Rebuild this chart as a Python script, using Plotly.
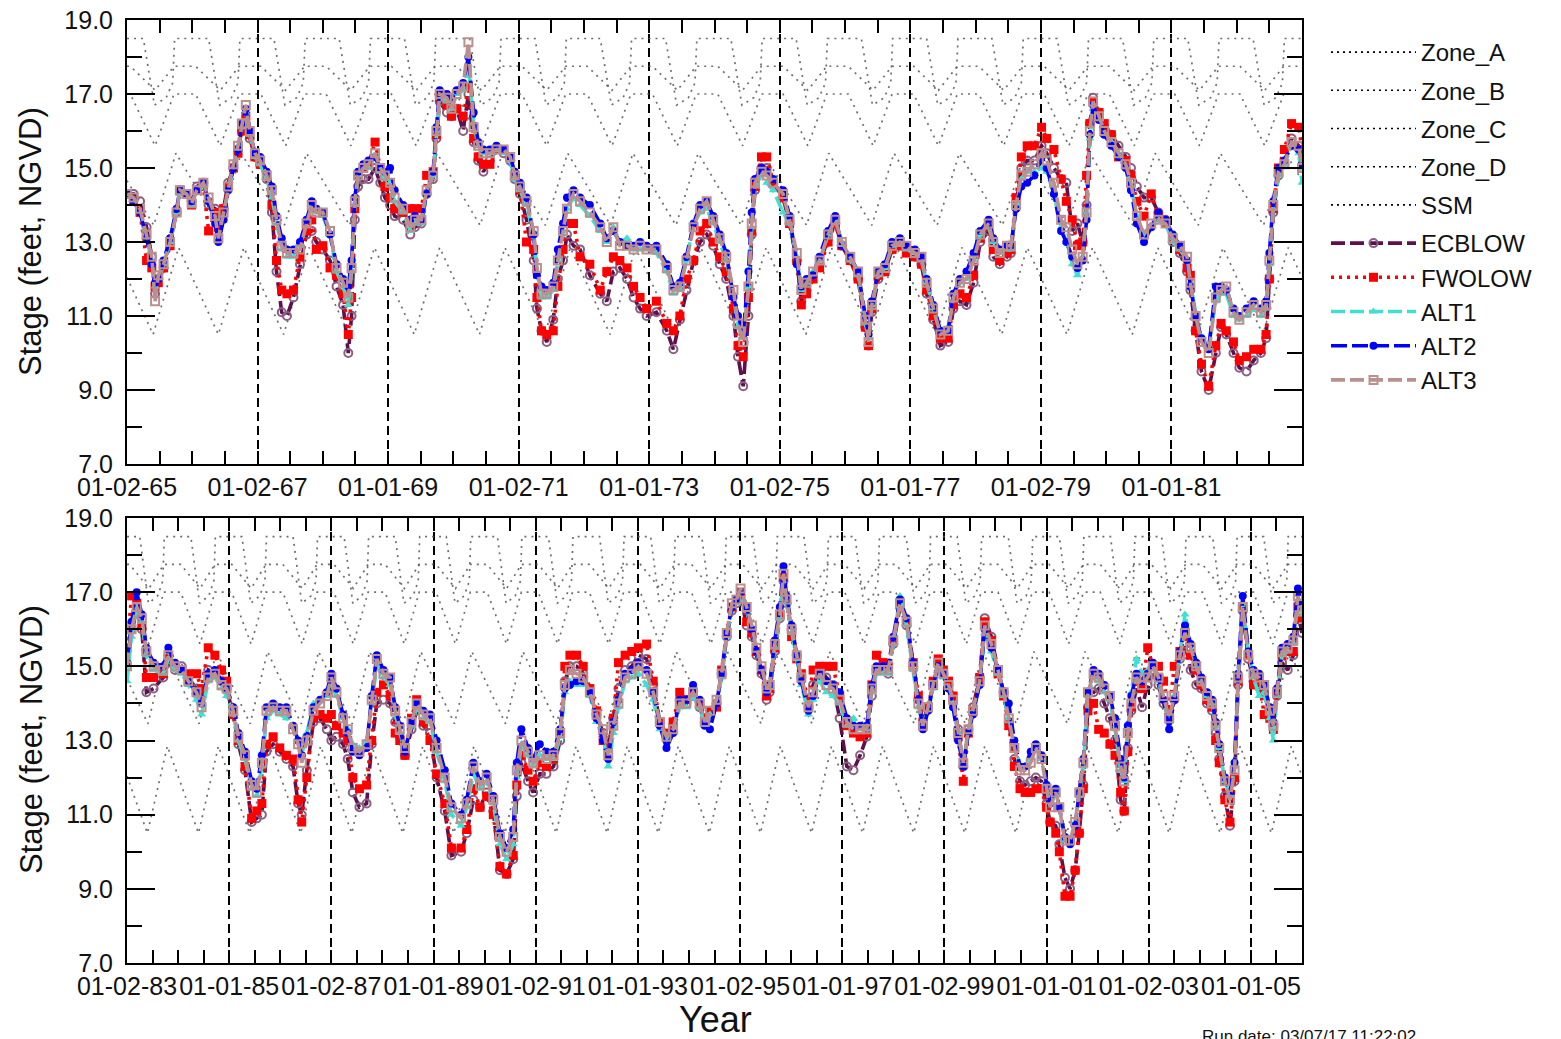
import plotly.graph_objects as go

# ---------------- DATA (decimal year, stage in ft NGVD) ----------------
T_TOP = [
    1965.00, 1965.10, 1965.20, 1965.30, 1965.38, 1965.43, 1965.48, 1965.56, 1965.66, 1965.76, 1965.81, 1965.91, 1965.99,
    1966.07, 1966.17, 1966.25, 1966.35, 1966.40, 1966.48, 1966.55, 1966.63, 1966.70, 1966.76, 1966.82, 1966.88, 1966.96,
    1967.04, 1967.14, 1967.22, 1967.29, 1967.37, 1967.45, 1967.55, 1967.65, 1967.75, 1967.83, 1967.90,
    1968.00, 1968.11, 1968.21, 1968.31, 1968.39, 1968.44, 1968.49, 1968.54, 1968.62, 1968.70, 1968.80, 1968.88, 1968.95,
    1969.03, 1969.10, 1969.23, 1969.34, 1969.41, 1969.51, 1969.59, 1969.69, 1969.74, 1969.79, 1969.90, 1969.97,
    1970.05, 1970.15, 1970.23, 1970.31, 1970.38, 1970.46, 1970.56, 1970.66, 1970.77, 1970.87, 1970.94,
    1971.02, 1971.12, 1971.23, 1971.28, 1971.35, 1971.43, 1971.53, 1971.60, 1971.68, 1971.74, 1971.84, 1971.94,
    1972.09, 1972.25, 1972.35, 1972.45, 1972.55, 1972.66, 1972.76, 1972.86, 1972.96,
    1973.11, 1973.27, 1973.37, 1973.47, 1973.57, 1973.68, 1973.78, 1973.88, 1973.98,
    1974.08, 1974.18, 1974.29, 1974.36, 1974.44, 1974.52, 1974.57, 1974.62, 1974.72, 1974.80, 1974.90,
    1975.05, 1975.15, 1975.26, 1975.33, 1975.41, 1975.51, 1975.61, 1975.74, 1975.85, 1975.95,
    1976.08, 1976.20, 1976.31, 1976.36, 1976.41, 1976.51, 1976.61, 1976.72, 1976.84, 1976.94,
    1977.07, 1977.17, 1977.25, 1977.35, 1977.46, 1977.58, 1977.66, 1977.76, 1977.86, 1977.97,
    1978.07, 1978.20, 1978.27, 1978.37, 1978.48, 1978.54, 1978.62, 1978.70, 1978.79, 1978.90,
    1979.01, 1979.09, 1979.20, 1979.31, 1979.39, 1979.48, 1979.56, 1979.64, 1979.70, 1979.75, 1979.80, 1979.89, 1979.97,
    1980.08, 1980.19, 1980.30, 1980.38, 1980.47, 1980.58, 1980.69, 1980.80, 1980.91,
    1981.02, 1981.13, 1981.24, 1981.29, 1981.37, 1981.46, 1981.57, 1981.68, 1981.76, 1981.84, 1981.95,
    1982.04, 1982.15, 1982.26, 1982.37, 1982.45, 1982.50, 1982.56, 1982.64, 1982.73, 1982.84, 1982.95,
    1983.00,
]

ALT3_TOP = [
    14.3, 14.2, 13.9, 13.2, 12.6, 11.4, 12.1, 12.4, 13.0, 13.8, 14.4, 14.3, 14.05,
    14.4, 14.6, 14.2, 13.7, 13.1, 13.8, 14.5, 15.1, 15.6, 16.2, 16.7, 16.0, 15.4,
    15.2, 14.8, 14.4, 13.6, 12.9, 12.7, 12.7, 12.8, 13.5, 14.0, 13.8,
    13.8, 13.3, 12.3, 11.9, 11.5, 12.3, 14.1, 14.8, 15.0, 15.1, 15.4, 15.0, 14.8,
    14.6, 14.2, 13.9, 13.4, 13.6, 13.6, 14.4, 14.8, 16.0, 17.0, 16.9, 16.6,
    17.0, 17.2, 18.4, 16.1, 15.6, 15.4, 15.4, 15.5, 15.5, 15.3, 14.8,
    14.5, 14.1, 13.3, 12.3, 11.6, 11.6, 11.8, 12.5, 13.3, 13.9, 14.3, 14.1,
    13.8, 13.4, 13.0, 13.4, 12.9, 12.9, 12.8, 12.9, 12.8,
    12.8, 12.3, 11.7, 11.8, 12.5, 13.4, 13.9, 14.1, 13.6,
    13.1, 12.6, 11.7, 10.8, 10.3, 11.8, 13.5, 14.6, 14.9, 14.8, 14.6,
    14.3, 13.6, 12.7, 11.7, 11.9, 12.2, 12.5, 13.2, 13.6, 13.0,
    12.6, 12.2, 10.9, 10.3, 11.3, 12.2, 12.3, 12.9, 13.0, 12.9,
    12.7, 12.6, 11.9, 11.2, 10.5, 10.6, 11.5, 11.9, 12.0, 12.5,
    13.2, 13.5, 13.0, 12.7, 12.9, 12.9, 14.0, 14.8, 14.9, 15.1,
    15.4, 15.2, 14.6, 13.6, 13.4, 12.8, 12.4, 12.6, 13.8, 16.0, 16.8, 16.4, 16.0,
    15.7, 15.4, 15.1, 14.6, 13.7, 13.2, 13.5, 13.6, 13.5,
    13.1, 12.9, 12.6, 11.9, 11.0, 10.3, 10.0, 11.5, 11.7, 11.8, 11.1,
    10.9, 11.1, 11.3, 11.1, 11.3, 12.5, 14.0, 14.9, 15.1, 15.7, 15.6,
    15.0,
]

ALT2_TOP = [
    14.3, 14.1, 13.8, 13.1, 12.4, 11.9, 12.0, 12.5, 13.1, 13.9, 14.4, 14.3, 14.1,
    14.4, 14.6, 14.1, 13.5, 13.0, 13.6, 14.4, 15.0, 15.5, 16.2, 16.6, 16.0, 15.4,
    15.3, 14.9, 14.5, 13.7, 13.1, 12.8, 12.8, 13.0, 13.6, 14.1, 13.9,
    13.8, 13.2, 12.4, 12.0, 11.8, 12.5, 14.2, 14.9, 15.1, 15.2, 15.3, 15.0, 14.9,
    15.0, 14.4, 14.0, 13.6, 13.7, 13.6, 14.3, 14.9, 16.1, 17.1, 17.0, 16.9,
    17.1, 17.3, 18.0, 16.5, 15.7, 15.5, 15.5, 15.6, 15.5, 15.3, 14.9,
    14.6, 14.2, 13.2, 12.1, 11.8, 11.7, 11.9, 12.8, 13.5, 14.2, 14.4, 14.2,
    14.0, 13.5, 13.1, 13.3, 13.0, 12.9, 12.9, 13.0, 12.9,
    12.9, 12.4, 11.8, 11.9, 12.6, 13.5, 14.0, 14.1, 13.7,
    13.2, 12.7, 11.5, 11.0, 10.5, 12.2, 13.8, 14.7, 15.0, 14.9, 14.7,
    14.4, 13.7, 12.4, 11.8, 12.0, 12.1, 12.6, 13.3, 13.7, 12.9,
    12.6, 12.2, 11.0, 10.5, 11.4, 12.2, 12.4, 13.0, 13.1, 12.9,
    12.8, 12.6, 12.0, 11.3, 10.6, 10.6, 11.6, 12.0, 12.2, 12.7,
    13.3, 13.6, 13.1, 12.8, 12.9, 12.9, 13.9, 14.5, 14.6, 14.8,
    15.3, 15.0, 14.3, 13.3, 13.0, 12.6, 12.3, 12.5, 13.6, 15.9, 16.7, 16.3, 15.9,
    15.6, 15.3, 15.0, 14.4, 13.5, 13.0, 13.4, 13.8, 13.6,
    13.2, 12.9, 12.5, 11.8, 11.0, 10.4, 10.1, 11.8, 11.8, 11.7, 11.2,
    11.0, 11.2, 11.4, 11.2, 11.4, 12.7, 14.1, 15.0, 15.2, 15.6, 15.5,
    15.1,
]

ALT1_TOP = [
    14.3, 14.1, 13.8, 13.1, 12.5, 11.8, 12.0, 12.4, 13.0, 13.8, 14.3, 14.3, 14.0,
    14.4, 14.5, 14.1, 13.6, 13.1, 13.7, 14.4, 15.0, 15.5, 16.1, 16.5, 15.9, 15.3,
    15.1, 14.7, 14.2, 13.5, 12.8, 12.6, 12.6, 12.9, 13.6, 14.0, 13.8,
    13.7, 13.2, 12.2, 11.8, 11.3, 12.2, 14.0, 14.8, 15.0, 15.0, 15.3, 14.9, 14.7,
    14.6, 14.1, 13.8, 13.3, 13.5, 13.5, 14.3, 14.8, 16.0, 16.9, 16.8, 16.6,
    17.0, 17.1, 17.8, 16.2, 15.6, 15.4, 15.4, 15.5, 15.4, 15.2, 14.7,
    14.4, 14.0, 13.2, 12.2, 11.5, 11.5, 11.7, 12.5, 13.3, 13.9, 14.2, 14.0,
    13.7, 13.3, 13.0, 13.4, 13.0, 13.1, 12.8, 12.8, 12.8,
    12.7, 12.2, 11.6, 11.7, 12.5, 13.5, 13.8, 13.9, 13.5,
    13.0, 12.5, 11.6, 10.7, 10.4, 11.8, 13.4, 14.5, 14.8, 14.6, 14.4,
    13.8, 13.5, 12.6, 11.7, 11.9, 12.2, 12.5, 13.2, 13.6, 13.0,
    12.5, 12.1, 10.8, 10.4, 11.3, 12.1, 12.3, 12.9, 13.0, 12.8,
    12.7, 12.5, 11.9, 11.2, 10.6, 10.7, 11.6, 11.9, 12.0, 12.5,
    13.2, 13.4, 13.0, 12.7, 12.8, 12.8, 13.9, 14.7, 14.9, 14.9,
    15.0, 14.9, 14.3, 13.4, 13.0, 12.4, 12.1, 12.6, 13.8, 15.8, 16.6, 16.3, 15.9,
    15.7, 15.4, 15.0, 14.5, 13.7, 13.2, 13.4, 13.6, 13.5,
    13.0, 12.8, 12.5, 11.9, 11.1, 10.4, 10.2, 11.4, 11.6, 11.6, 11.0,
    10.9, 11.0, 11.2, 11.0, 11.2, 12.4, 13.9, 14.8, 15.1, 15.6, 15.4,
    14.6,
]

ECBLOW_TOP = [
    14.3, 14.3, 14.1, 13.4, 12.6, 11.6, 12.0, 12.3, 13.0, 13.8, 14.4, 14.3, 14.1,
    14.5, 14.6, 14.0, 13.9, 13.5, 13.9, 14.6, 15.0, 15.5, 16.0, 16.2, 15.8, 15.3,
    15.1, 14.7, 13.8, 12.2, 11.1, 11.0, 11.5, 12.4, 13.2, 13.3, 13.0,
    12.8, 12.5, 11.8, 11.3, 10.0, 11.0, 13.6, 14.5, 14.7, 14.7, 15.0, 14.6, 14.2,
    14.0, 13.7, 13.6, 13.2, 13.4, 13.5, 14.3, 14.7, 15.8, 16.8, 16.5, 16.4,
    16.6, 16.0, 17.0, 15.7, 15.2, 14.9, 15.2, 15.5, 15.4, 15.2, 14.7,
    14.3, 13.6, 12.5, 11.2, 10.6, 10.3, 10.9, 12.0, 12.5, 13.2, 12.9, 12.8,
    12.1, 11.6, 11.4, 12.2, 12.3, 12.0, 11.5, 11.2, 11.0,
    11.1, 10.6, 10.1, 10.9, 11.7, 12.5, 13.0, 13.2, 12.9,
    12.4, 12.0, 11.0, 9.9, 9.1, 11.0, 13.2, 14.4, 15.0, 15.0, 14.6,
    14.2, 13.5, 12.5, 11.4, 11.7, 12.1, 12.4, 13.1, 13.5, 12.9,
    12.5, 12.0, 10.7, 10.2, 11.1, 12.0, 12.2, 12.8, 12.9, 12.8,
    12.6, 12.4, 11.6, 10.9, 10.2, 10.3, 11.2, 11.4, 11.3, 11.9,
    13.0, 13.3, 12.6, 12.4, 12.6, 12.7, 14.0, 15.0, 15.2, 15.2,
    15.6, 15.4, 15.0, 14.7, 14.6, 13.3, 13.5, 13.0, 14.0, 16.2, 16.9, 16.5, 16.1,
    15.9, 15.6, 15.3, 15.0, 14.5, 14.2, 14.2, 13.8, 13.6,
    13.0, 12.7, 12.2, 11.7, 10.6, 9.5, 9.0, 10.0, 10.7, 10.5, 10.0,
    9.6, 9.5, 9.8, 10.0, 10.4, 12.0, 13.8, 14.8, 15.1, 15.8, 15.6,
    15.0,
]

FWOLOW_TOP = [
    14.3, 14.1, 13.8, 12.5, 12.3, 11.8, 11.9, 12.3, 12.9, 13.8, 14.4, 14.3, 14.0,
    14.4, 14.5, 13.3, 13.8, 13.4, 13.9, 14.5, 15.0, 15.4, 16.0, 16.4, 15.9, 15.3,
    15.1, 14.8, 14.0, 12.5, 11.7, 11.6, 11.7, 12.6, 13.3, 13.6, 12.8,
    12.9, 12.3, 12.1, 11.6, 10.5, 11.5, 13.9, 14.8, 15.0, 15.1, 15.7, 15.0, 14.5,
    14.2, 13.9, 13.8, 13.9, 13.9, 13.9, 14.8, 14.9, 15.9, 16.9, 16.7, 16.4,
    16.6, 16.4, 17.2, 15.8, 15.3, 15.1, 15.1, 15.5, 15.5, 15.3, 14.8,
    14.4, 13.0, 12.8, 11.5, 10.6, 10.5, 10.6, 11.8, 12.8, 13.5, 13.5, 12.6,
    12.4, 11.7, 12.2, 12.6, 12.5, 12.3, 11.8, 11.5, 11.2,
    11.4, 10.8, 10.6, 11.0, 12.0, 12.5, 13.3, 13.5, 13.0,
    12.6, 12.2, 11.2, 10.2, 9.9, 11.5, 13.3, 14.5, 15.3, 15.3, 14.6,
    14.2, 13.5, 12.5, 11.3, 11.6, 12.0, 12.3, 13.0, 13.5, 12.9,
    12.5, 12.0, 10.7, 10.2, 11.2, 12.1, 12.2, 12.8, 12.9, 12.7,
    12.6, 12.4, 11.7, 11.0, 10.4, 10.4, 11.3, 11.6, 11.5, 12.1,
    13.1, 13.4, 12.8, 12.5, 12.7, 12.8, 14.2, 15.3, 15.6, 15.6,
    16.1, 15.8, 15.5, 14.7, 14.1, 13.6, 12.9, 13.0, 14.8, 16.2, 16.8, 16.5, 16.2,
    15.9, 15.3, 15.2, 14.8, 14.1, 13.7, 14.3, 13.7, 13.5,
    13.1, 12.8, 12.3, 12.1, 10.6, 9.7, 9.1, 10.2, 10.8, 10.6, 10.3,
    9.8, 9.9, 10.1, 10.1, 10.5, 12.0, 13.9, 15.0, 15.5, 16.2, 16.1,
    15.5,
]

T_BOT = [
    1983.00, 1983.09, 1983.19, 1983.29, 1983.38, 1983.52, 1983.71, 1983.81, 1983.94,
    1984.07, 1984.20, 1984.36, 1984.46, 1984.59, 1984.72, 1984.85, 1984.95,
    1985.08, 1985.18, 1985.31, 1985.44, 1985.54, 1985.64, 1985.73, 1985.86,
    1985.99, 1986.12, 1986.25, 1986.35, 1986.42, 1986.52, 1986.65, 1986.78, 1986.91,
    1987.00, 1987.10, 1987.23, 1987.32, 1987.42, 1987.55, 1987.69, 1987.79, 1987.89,
    1988.02, 1988.15, 1988.25, 1988.34, 1988.44, 1988.57, 1988.67, 1988.80, 1988.93,
    1989.06, 1989.22, 1989.35, 1989.54, 1989.65, 1989.78, 1989.91,
    1990.04, 1990.17, 1990.30, 1990.43, 1990.56, 1990.63, 1990.72, 1990.85, 1990.95,
    1991.08, 1991.21, 1991.35, 1991.48, 1991.57, 1991.67, 1991.80, 1991.93,
    1992.06, 1992.19, 1992.32, 1992.42, 1992.52, 1992.62, 1992.75, 1992.88,
    1993.01, 1993.17, 1993.30, 1993.43, 1993.56, 1993.69, 1993.82, 1993.95,
    1994.08, 1994.21, 1994.31, 1994.41, 1994.54, 1994.64, 1994.74, 1994.84, 1994.93,
    1995.01, 1995.13, 1995.23, 1995.32, 1995.42, 1995.52, 1995.58, 1995.68, 1995.78, 1995.85, 1995.91,
    1996.01, 1996.11, 1996.20, 1996.34, 1996.43, 1996.56, 1996.69, 1996.82, 1996.95,
    1997.09, 1997.22, 1997.35, 1997.48, 1997.58, 1997.67, 1997.80, 1997.90,
    1998.00, 1998.13, 1998.26, 1998.39, 1998.49, 1998.58, 1998.68, 1998.78, 1998.88, 1998.98,
    1999.08, 1999.17, 1999.27, 1999.37, 1999.47, 1999.56, 1999.69, 1999.79, 1999.92,
    2000.05, 2000.16, 2000.26, 2000.37, 2000.48, 2000.58, 2000.69, 2000.79, 2000.90,
    2001.00, 2001.07, 2001.18, 2001.25, 2001.36, 2001.46, 2001.56, 2001.64, 2001.72, 2001.81, 2001.92,
    2002.02, 2002.13, 2002.24, 2002.34, 2002.45, 2002.52, 2002.59, 2002.66, 2002.76, 2002.87, 2002.98,
    2003.08, 2003.19, 2003.29, 2003.40, 2003.50, 2003.61, 2003.71, 2003.82, 2003.93,
    2004.03, 2004.14, 2004.24, 2004.31, 2004.38, 2004.49, 2004.59, 2004.68, 2004.75, 2004.84, 2004.95,
    2005.05, 2005.16, 2005.26, 2005.37, 2005.44, 2005.51, 2005.61, 2005.72, 2005.83, 2005.92,
    2006.00,
]

ALT3_BOT = [
    15.0, 16.0, 16.6, 16.3, 15.4, 15.0, 14.9, 15.3, 15.0,
    14.9, 14.6, 14.3, 13.9, 14.7, 14.8, 14.5, 14.4,
    13.8, 13.1, 12.6, 11.8, 11.6, 12.4, 13.8, 13.9,
    13.8, 13.8, 13.3, 12.9, 12.4, 13.0, 13.8, 14.0, 14.2,
    14.7, 14.3, 13.6, 13.3, 12.8, 12.7, 12.9, 14.1, 15.2,
    14.8, 14.7, 13.8, 13.3, 12.8, 13.5, 14.0, 13.7, 13.6,
    12.8, 12.0, 11.2, 10.9, 11.3, 12.3, 11.8,
    12.0, 11.4, 10.4, 10.0, 10.4, 12.2, 13.0, 12.7, 12.4,
    12.6, 12.5, 12.6, 13.2, 14.5, 14.9, 14.8, 14.7,
    14.3, 13.7, 13.3, 12.6, 13.4, 14.0, 14.7, 14.8,
    15.0, 14.8, 14.3, 13.5, 13.1, 13.3, 14.0, 14.0,
    14.3, 14.0, 13.5, 13.8, 14.1, 14.8, 15.9, 16.7, 16.8,
    17.1, 16.6, 16.1, 15.5, 15.0, 14.4, 14.5, 15.6, 16.4, 17.5, 16.8,
    16.0, 15.3, 14.7, 13.9, 14.3, 14.8, 14.5, 14.4, 14.1,
    13.5, 13.3, 13.3, 13.3, 14.4, 14.9, 14.9, 14.9,
    15.7, 16.7, 16.2, 15.0, 14.0, 13.4, 13.9, 14.5, 15.1, 14.8,
    14.5, 14.1, 13.2, 12.4, 13.3, 13.8, 14.6, 16.1, 15.6,
    14.9, 14.3, 13.6, 12.8, 12.2, 12.2, 12.4, 12.8, 12.5,
    11.7, 11.2, 11.6, 11.2, 10.3, 10.3, 10.8, 11.6, 12.4, 14.3, 14.8,
    14.7, 14.4, 14.2, 13.4, 12.3, 11.9, 13.2, 14.0, 14.7, 14.5, 14.7,
    15.0, 14.7, 14.2, 13.6, 14.2, 15.3, 15.9, 15.5, 15.0,
    14.6, 14.2, 14.0, 13.4, 12.8, 11.9, 11.4, 12.2, 14.7, 16.6, 15.3,
    14.8, 14.7, 14.5, 13.8, 13.4, 14.3, 15.4, 15.5, 15.7, 16.9,
    16.5,
]

ALT2_BOT = [
    15.1, 16.2, 17.0, 16.4, 15.5, 15.1, 15.0, 15.5, 15.1,
    14.9, 14.6, 14.3, 14.0, 14.8, 14.9, 14.6, 14.4,
    13.9, 13.2, 12.7, 11.9, 11.7, 12.6, 13.9, 14.0,
    13.9, 13.9, 13.4, 13.0, 12.6, 13.1, 13.9, 14.1, 14.3,
    14.8, 14.4, 13.7, 13.2, 12.7, 12.6, 12.8, 14.2, 15.3,
    14.9, 14.7, 13.9, 13.4, 12.7, 13.5, 14.0, 13.8, 13.7,
    13.0, 12.2, 11.3, 11.0, 11.4, 12.4, 11.9,
    12.1, 11.5, 10.5, 10.1, 10.6, 12.4, 13.3, 12.8, 12.5,
    12.9, 12.7, 12.7, 13.3, 14.4, 14.5, 14.6, 14.6,
    14.3, 13.6, 13.0, 12.5, 13.5, 14.1, 14.8, 14.9,
    15.1, 14.9, 14.3, 13.4, 12.8, 13.2, 14.1, 14.1,
    14.5, 14.1, 13.4, 13.3, 14.0, 14.8, 15.9, 16.6, 16.8,
    17.0, 16.6, 16.0, 15.4, 14.9, 14.3, 14.5, 15.7, 16.6, 17.7, 16.9,
    16.1, 15.3, 14.6, 13.8, 14.2, 14.8, 14.6, 14.5, 14.3,
    13.6, 13.4, 13.4, 13.4, 14.5, 15.0, 15.0, 15.0,
    15.8, 16.8, 16.3, 15.1, 14.1, 13.3, 13.8, 14.5, 15.0, 14.8,
    14.4, 13.9, 13.0, 12.3, 13.2, 13.7, 14.5, 16.0, 15.5,
    14.9, 14.3, 14.0, 13.0, 12.3, 12.3, 12.7, 12.9, 12.6,
    11.8, 11.3, 11.7, 11.2, 10.4, 10.2, 10.7, 11.6, 12.5, 14.3, 14.9,
    14.8, 14.5, 14.2, 13.6, 12.5, 12.0, 13.4, 14.2, 14.8, 14.6, 14.8,
    15.1, 14.7, 14.1, 13.3, 14.1, 15.4, 16.1, 15.6, 15.1,
    14.7, 14.3, 14.1, 13.5, 12.9, 12.0, 11.6, 12.4, 14.8, 16.9, 15.4,
    14.9, 14.8, 14.5, 13.9, 13.5, 14.4, 15.5, 15.6, 15.8, 17.1,
    16.7,
]

ALT1_BOT = [
    14.6, 15.8, 16.6, 16.2, 15.3, 14.9, 14.8, 15.2, 14.9,
    14.8, 14.5, 14.1, 13.7, 14.6, 14.7, 14.4, 14.2,
    13.7, 13.0, 12.5, 11.7, 11.5, 12.3, 13.6, 13.8,
    13.7, 13.6, 13.4, 13.0, 12.6, 13.2, 14.0, 14.1, 14.2,
    14.5, 14.2, 13.6, 13.3, 12.9, 12.8, 13.0, 14.0, 15.0,
    14.7, 14.5, 13.7, 13.2, 12.7, 13.4, 13.9, 13.6, 13.5,
    12.7, 11.9, 11.0, 10.7, 11.2, 12.1, 11.7,
    11.9, 11.3, 10.2, 9.8, 10.2, 12.0, 12.9, 12.6, 12.3,
    12.6, 12.5, 12.5, 13.1, 14.3, 14.6, 14.5, 14.5,
    14.2, 13.5, 13.1, 12.3, 13.2, 13.9, 14.6, 14.7,
    14.8, 14.5, 14.1, 13.3, 13.0, 13.2, 13.9, 13.9,
    14.2, 13.9, 13.4, 13.7, 14.0, 14.7, 15.8, 16.6, 16.7,
    16.9, 16.5, 16.0, 15.4, 14.9, 14.4, 14.5, 15.5, 16.3, 17.3, 16.7,
    15.9, 15.2, 14.5, 13.7, 14.1, 14.6, 14.3, 14.2, 14.0,
    13.4, 13.6, 13.4, 13.3, 14.3, 14.8, 14.8, 14.8,
    15.6, 16.9, 16.1, 14.9, 13.9, 13.4, 13.8, 14.4, 14.9, 14.7,
    14.4, 14.0, 13.2, 12.4, 13.2, 13.8, 14.5, 15.9, 15.4,
    14.8, 14.2, 13.6, 12.9, 12.3, 12.3, 12.6, 12.8, 12.5,
    11.8, 11.3, 11.6, 11.2, 10.3, 10.3, 10.8, 11.5, 12.3, 14.2, 14.7,
    14.6, 14.3, 14.1, 13.3, 12.2, 11.9, 13.3, 14.3, 15.2, 14.8, 14.9,
    15.0, 14.6, 14.1, 13.5, 14.2, 15.4, 16.4, 15.6, 15.0,
    14.6, 14.2, 14.0, 13.4, 12.8, 11.9, 11.5, 12.3, 14.6, 16.7, 15.4,
    14.7, 14.2, 14.3, 13.6, 13.0, 14.2, 15.3, 15.4, 15.6, 16.8,
    16.4,
]

ECBLOW_BOT = [
    15.0, 16.0, 16.5, 16.0, 14.3, 14.4, 14.7, 15.1, 14.9,
    15.0, 14.7, 14.4, 14.2, 14.9, 14.8, 14.6, 14.4,
    13.7, 12.9, 12.2, 10.8, 10.9, 11.0, 12.7, 12.9,
    12.7, 12.5, 12.3, 11.3, 11.0, 12.2, 13.5, 13.6, 13.3,
    13.0, 13.1, 12.9, 12.5, 11.6, 11.2, 11.3, 12.9, 14.0,
    14.1, 14.0, 13.5, 13.1, 12.6, 13.3, 13.8, 13.4, 13.2,
    12.0, 11.1, 9.9, 10.0, 10.5, 11.4, 11.2,
    11.6, 11.1, 9.5, 9.4, 9.8, 11.5, 12.4, 11.9, 11.6,
    12.1, 12.1, 12.3, 13.0, 14.6, 15.0, 15.0, 14.8,
    14.3, 13.7, 13.2, 12.8, 13.6, 14.4, 14.9, 15.0,
    15.3, 15.2, 14.5, 13.5, 13.1, 13.4, 14.1, 14.0,
    14.2, 13.9, 13.5, 13.7, 14.0, 14.8, 15.8, 16.5, 16.7,
    16.9, 16.1, 15.8, 15.3, 14.8, 14.1, 14.3, 15.4, 16.3, 17.3, 16.7,
    16.0, 15.3, 14.7, 13.9, 14.5, 14.9, 14.7, 14.5, 13.6,
    12.3, 12.2, 12.6, 13.1, 14.2, 14.9, 14.9, 14.8,
    15.6, 16.6, 16.1, 15.0, 14.1, 13.5, 13.9, 14.5, 15.1, 14.8,
    14.5, 14.1, 13.3, 12.3, 13.3, 13.9, 14.7, 16.3, 15.8,
    14.9, 14.3, 13.5, 12.5, 11.9, 11.8, 11.9, 12.0, 11.9,
    11.3, 10.8, 10.7, 10.2, 9.3, 9.0, 9.5, 10.5, 11.8, 13.9, 14.3,
    14.4, 14.0, 13.6, 13.0, 11.4, 11.1, 12.8, 13.8, 14.4, 13.9, 14.5,
    14.8, 14.5, 14.0, 13.6, 14.1, 15.2, 15.6, 14.9, 14.5,
    14.4, 14.0, 13.8, 13.2, 12.5, 11.5, 10.7, 11.9, 14.5, 16.5, 15.2,
    14.6, 14.5, 14.3, 13.7, 13.4, 14.2, 15.1, 14.9, 15.3, 16.4,
    15.9,
]

FWOLOW_BOT = [
    15.5, 16.9, 16.7, 16.1, 14.7, 14.7, 14.8, 15.2, 15.0,
    14.9, 14.8, 14.8, 14.4, 15.5, 15.3, 14.9, 14.6,
    13.7, 13.0, 12.3, 10.9, 11.1, 11.3, 12.9, 13.1,
    12.8, 12.6, 12.5, 11.4, 10.8, 12.0, 13.6, 13.7, 13.6,
    13.7, 13.4, 13.2, 13.0, 12.0, 11.7, 11.8, 13.0, 14.3,
    14.5, 14.2, 13.2, 13.0, 12.6, 13.6, 14.1, 13.5, 13.0,
    12.1, 11.3, 10.1, 10.1, 10.6, 11.7, 11.2,
    11.5, 11.0, 9.6, 9.4, 9.9, 11.8, 12.6, 12.2, 11.9,
    12.4, 12.3, 12.5, 13.2, 15.0, 15.3, 15.3, 15.0,
    14.4, 13.8, 13.0, 12.8, 13.6, 15.1, 15.3, 15.4,
    15.5, 15.6, 14.6, 13.5, 13.2, 13.5, 14.3, 14.1,
    14.3, 14.0, 13.6, 13.8, 13.9, 14.9, 15.9, 16.6, 16.8,
    17.0, 16.2, 15.9, 15.4, 14.9, 14.2, 14.4, 15.5, 16.4, 17.4, 16.8,
    15.8, 15.2, 14.8, 14.1, 14.9, 15.0, 15.0, 15.0, 14.2,
    13.4, 13.2, 13.1, 13.2, 14.5, 15.3, 15.1, 15.0,
    15.7, 16.7, 16.2, 15.1, 14.2, 13.5, 13.9, 14.6, 15.2, 14.9,
    14.6, 14.2, 13.1, 11.9, 13.2, 13.8, 14.7, 16.2, 15.7,
    14.8, 14.2, 13.4, 12.3, 11.7, 11.6, 11.6, 11.7, 11.7,
    11.2, 10.8, 10.5, 10.0, 8.8, 8.8, 9.5, 10.5, 11.7, 13.8, 14.0,
    13.3, 13.2, 12.9, 12.6, 11.6, 11.1, 12.7, 13.9, 14.6, 14.4, 15.5,
    15.0, 15.0, 14.6, 13.8, 15.0, 15.4, 15.8, 15.3, 14.9,
    14.5, 14.1, 13.9, 13.0, 12.4, 11.4, 10.8, 12.0, 14.6, 16.6, 15.3,
    14.5, 14.6, 13.7, 13.6, 13.3, 14.3, 15.3, 15.4, 15.4, 16.6,
    16.3,
]

# Annual regulation-schedule shapes (fraction of year, stage) for the zone lines
ZONE_A_FRAC = [0.00, 0.25, 0.42, 0.60, 0.70, 0.73, 1.00]
ZONE_A_VAL = [18.5, 18.5, 16.7, 16.9, 17.3, 18.5, 18.5]
ZONE_B_FRAC = [0.00, 0.05, 0.43, 0.72, 1.00]
ZONE_B_VAL = [17.75, 17.75, 17.1, 17.75, 17.75]
ZONE_C_FRAC = [0.00, 0.05, 0.43, 0.72, 1.00]
ZONE_C_VAL = [17.0, 17.0, 15.6, 17.0, 17.0]
ZONE_D_FRAC = [0.00, 0.41, 0.75, 1.00]
ZONE_D_VAL = [14.66, 13.45, 15.4, 14.66]
SSM_FRAC = [0.00, 0.40, 0.79, 1.00]
SSM_VAL = [12.04, 10.5, 12.85, 12.04]

TOP_TICKVALS = [1965, 1967, 1969, 1971, 1973, 1975, 1977, 1979, 1981]
TOP_TICKTEXT = ["01-02-65", "01-02-67", "01-01-69", "01-02-71", "01-01-73",
                "01-02-75", "01-01-77", "01-02-79", "01-01-81"]
BOT_TICKVALS = [1983, 1985, 1987, 1989, 1991, 1993, 1995, 1997, 1999, 2001, 2003, 2005]
BOT_TICKTEXT = ["01-02-83", "01-01-85", "01-02-87", "01-01-89", "01-02-91", "01-01-93",
                "01-02-95", "01-01-97", "01-02-99", "01-01-01", "01-02-03", "01-01-05"]
Y_TICKVALS = [7, 9, 11, 13, 15, 17, 19]
Y_TICKTEXT = ["7.0", "9.0", "11.0", "13.0", "15.0", "17.0", "19.0"]

# ---------------- FIGURE ----------------
OFF = 8                      # page body margin of the html page
W, H = 1561 - OFF, 1039 - OFF
FONT = "Liberation Sans, Arial, sans-serif"

def px_x(p):
    return (p - OFF) / W

def px_y(p):
    return 1 - (p - OFF) / H

fig = go.Figure()

zones = [
    ("Zone_A", ZONE_A_FRAC, ZONE_A_VAL),
    ("Zone_B", ZONE_B_FRAC, ZONE_B_VAL),
    ("Zone_C", ZONE_C_FRAC, ZONE_C_VAL),
    ("Zone_D", ZONE_D_FRAC, ZONE_D_VAL),
    ("SSM", SSM_FRAC, SSM_VAL),
]

def tile(frac, val, y0, y1):
    xs, ys = [], []
    for yr in range(y0, y1):
        for f, v in zip(frac[:-1], val[:-1]):
            xs.append(yr + f)
            ys.append(v)
    xs.append(y1 + frac[-1] - 1)
    ys.append(val[-1])
    return xs, ys

zone_line = dict(color="rgba(85,85,85,0.85)", width=1.7, dash="2px,5px")
for name, fr, vl in zones:
    for (y0, y1, xa, ya) in [(1965, 1983, "x", "y"), (1983, 2006, "x2", "y2")]:
        xs, ys = tile(fr, vl, y0, y1)
        fig.add_trace(go.Scatter(x=xs, y=ys, mode="lines", line=zone_line,
                                 xaxis=xa, yaxis=ya, showlegend=False, hoverinfo="skip"))

# legend entries for zones (black dotted)
for i, (name, fr, vl) in enumerate(zones):
    fig.add_trace(go.Scatter(x=[None], y=[None], mode="lines", name=name,
                             line=dict(color="black", width=1.6, dash="2px,4px"),
                             legendgroup=f"z{i}", xaxis="x", yaxis="y"))

series = [
    ("ECBLOW", ECBLOW_TOP, ECBLOW_BOT,
     dict(color="#5e0f4e", width=3.6, dash="14px,5px"),
     dict(symbol="circle-open", size=8, color="#8a5f82", line=dict(width=2))),
    ("FWOLOW", FWOLOW_TOP, FWOLOW_BOT,
     dict(color="#ff0000", width=3.6, dash="3px,5px"),
     dict(symbol="square", size=9, color="#ff0000")),
    ("ALT1", ALT1_TOP, ALT1_BOT,
     dict(color="#40e0d0", width=3.6, dash="14px,5px"),
     dict(symbol="triangle-up", size=8, color="#40e0d0")),
    ("ALT2", ALT2_TOP, ALT2_BOT,
     dict(color="#0000ff", width=3.6, dash="16px,5px"),
     dict(symbol="circle", size=8, color="#0000ff")),
    ("ALT3", ALT3_TOP, ALT3_BOT,
     dict(color="#bc8f8f", width=3.6, dash="14px,5px"),
     dict(symbol="square-open", size=8, color="#bc8f8f", line=dict(width=2))),
]

for name, ytop, ybot, ln, mk in series:
    fig.add_trace(go.Scatter(x=T_TOP, y=ytop, mode="lines+markers", name=name,
                             line=ln, marker=mk, legendgroup="series",
                             xaxis="x", yaxis="y"))
    fig.add_trace(go.Scatter(x=T_BOT, y=ybot, mode="lines+markers", name=name,
                             line=ln, marker=mk, legendgroup="series", showlegend=False,
                             xaxis="x2", yaxis="y2"))

x_dom = [px_x(127), px_x(1302)]
common_x = dict(
    ticks="inside", ticklen=13, tickwidth=1.5, tickcolor="black",
    showline=True, linecolor="black", linewidth=2, mirror="ticks",
    showgrid=True, gridcolor="black", gridwidth=1.5, griddash="9px,5px",
    zeroline=False, tickmode="array", automargin=False, ticklabeloverflow="allow",
    tickfont=dict(family=FONT, size=25, color="#111"),
    domain=x_dom,
)
common_y = dict(
    range=[7, 19], tickmode="array", tickvals=Y_TICKVALS, ticktext=Y_TICKTEXT,
    ticks="inside", ticklen=28, tickwidth=1.5, tickcolor="black",
    showline=True, linecolor="black", linewidth=2, mirror="ticks",
    showgrid=False, zeroline=False, automargin=False, ticklabelstandoff=7,
    ticklabeloverflow="allow",
    tickfont=dict(family=FONT, size=25, color="#111"),
    minor=dict(tickmode="linear", tick0=7, dtick=1, ticks="inside",
               ticklen=15, tickwidth=1.5, tickcolor="black", showgrid=False),
)

fig.update_layout(
    width=W, height=H, autosize=False,
    margin=dict(l=0, r=0, t=0, b=0, pad=0, autoexpand=False),
    paper_bgcolor="white", plot_bgcolor="white",
    font=dict(family=FONT, color="#111"),
    xaxis=dict(common_x, range=[1965, 1983], anchor="y",
               tickvals=TOP_TICKVALS, ticktext=TOP_TICKTEXT,
               minor=dict(tickmode="linear", tick0=1965, dtick=0.5, ticks="inside",
                          ticklen=13, tickwidth=1.5, tickcolor="black", showgrid=False)),
    yaxis=dict(common_y, domain=[px_y(464), px_y(20)], anchor="x"),
    xaxis2=dict(common_x, range=[1983, 2006], anchor="y2",
                tickvals=BOT_TICKVALS, ticktext=BOT_TICKTEXT,
                minor=dict(tickmode="linear", tick0=1983, dtick=0.5, ticks="inside",
                           ticklen=13, tickwidth=1.5, tickcolor="black", showgrid=False)),
    yaxis2=dict(common_y, domain=[px_y(963), px_y(518)], anchor="x2"),
    showlegend=True,
    legend=dict(x=px_x(1326), y=px_y(30), xanchor="left", yanchor="top",
                traceorder="grouped", tracegroupgap=4, itemwidth=85,
                font=dict(family=FONT, size=24, color="#111"),
                bgcolor="rgba(0,0,0,0)", borderwidth=0),
    annotations=[
        dict(text="Stage (feet, NGVD)", x=px_x(31), y=px_y(242), xref="paper", yref="paper",
             xanchor="center", yanchor="middle",
             textangle=-90, showarrow=False, font=dict(family=FONT, size=31, color="#111")),
        dict(text="Stage (feet, NGVD)", x=px_x(31), y=px_y(740), xref="paper", yref="paper",
             xanchor="center", yanchor="middle",
             textangle=-90, showarrow=False, font=dict(family=FONT, size=31, color="#111")),
        dict(text="Year", x=px_x(715), y=px_y(1019), xref="paper", yref="paper",
             xanchor="center", yanchor="middle",
             showarrow=False, font=dict(family=FONT, size=36, color="#111")),
        dict(text="Run date: 03/07/17 11:22:02", x=px_x(1200), y=px_y(1025),
             xref="paper", yref="paper", xanchor="left", yanchor="top",
             showarrow=False, font=dict(family=FONT, size=17, color="#111")),
    ],
)

fig.write_html("out.html")
